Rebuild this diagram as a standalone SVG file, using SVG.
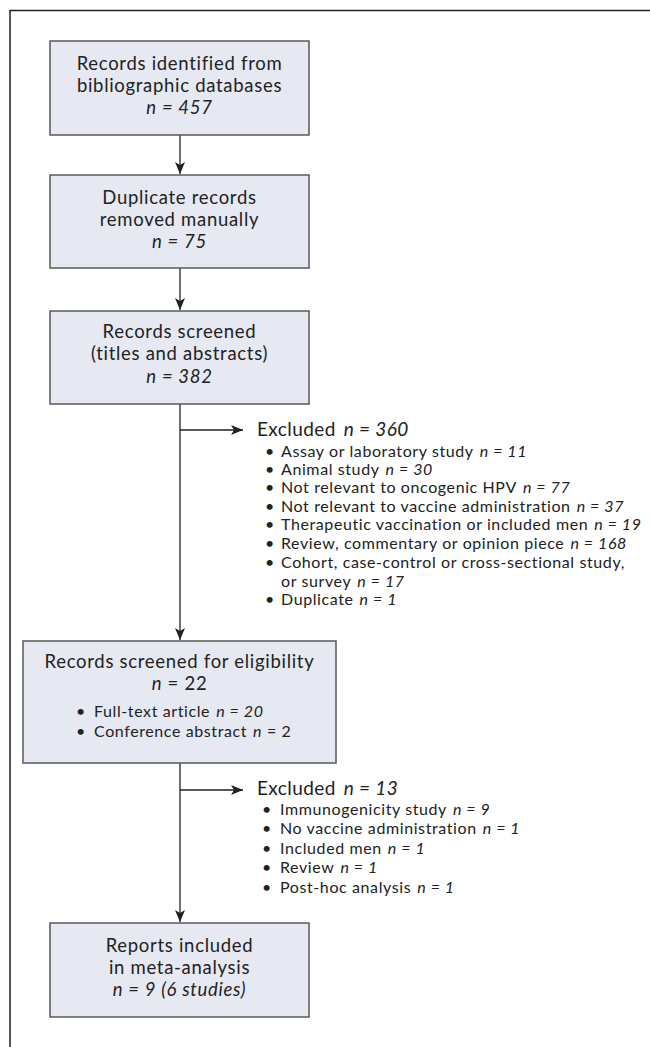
<svg xmlns="http://www.w3.org/2000/svg" width="650" height="1047" viewBox="0 0 650 1047">
<style>
.box{fill:#e6e8f2;stroke:#5a5a5a;stroke-width:1.5}
.t{font-family:Lato,"Liberation Sans",sans-serif;font-size:18.5px;letter-spacing:0.7px;fill:#222;text-anchor:middle}
.l{font-family:Lato,"Liberation Sans",sans-serif;font-size:16px;letter-spacing:0.6px;fill:#222}
.h{font-family:Lato,"Liberation Sans",sans-serif;font-size:19px;letter-spacing:0.4px;fill:#222}
.i{font-style:italic}
.c{fill:none;stroke:#222;stroke-width:1.3}
</style>
<defs>
<marker id="ah" viewBox="0 0 12 10" refX="12" refY="5" markerWidth="12" markerHeight="10" markerUnits="userSpaceOnUse" orient="auto">
<path d="M0,0 L12,5 L0,10 L3,5 z" fill="#222"/>
</marker>
</defs>
<rect x="0" y="0" width="650" height="1047" fill="#fff"/>
<path d="M10,1047 V10.5 H650" fill="none" stroke="#222" stroke-width="1.5"/>

<g id="connectors">
<line class="c" x1="180" y1="135" x2="180" y2="174" marker-end="url(#ah)"/>
<line class="c" x1="180" y1="268" x2="180" y2="310" marker-end="url(#ah)"/>
<line class="c" x1="180" y1="404" x2="180" y2="640" marker-end="url(#ah)"/>
<line class="c" x1="180" y1="430" x2="243" y2="430" marker-end="url(#ah)"/>
<line class="c" x1="180" y1="763" x2="180" y2="922" marker-end="url(#ah)"/>
<line class="c" x1="180" y1="790" x2="243" y2="790" marker-end="url(#ah)"/>
</g>

<g id="n1">
<rect class="box" x="50" y="41" width="259" height="94"/>
<text class="t" x="179.5" y="70">Records identified from</text>
<text class="t" x="179.5" y="92">bibliographic databases</text>
<text class="t i" x="179.5" y="114">n = 457</text>
</g>

<g id="n2">
<rect class="box" x="50" y="175" width="259" height="93"/>
<text class="t" x="179.5" y="204">Duplicate records</text>
<text class="t" x="179.5" y="226">removed manually</text>
<text class="t i" x="179.5" y="248">n = 75</text>
</g>

<g id="n3">
<rect class="box" x="50" y="311" width="259" height="93"/>
<text class="t" x="179.5" y="338">Records screened</text>
<text class="t" x="179.5" y="360">(titles and abstracts)</text>
<text class="t i" x="179.5" y="383">n = 382</text>
</g>

<g id="ex1">
<text class="h" x="257" y="436">Excluded<tspan class="i" dx="8">n = 360</tspan></text>
<g class="l">
<text x="265" y="457">•</text><text x="281" y="457">Assay or laboratory study<tspan class="i" dx="6">n = 11</tspan></text>
<text x="265" y="475">•</text><text x="281" y="475">Animal study<tspan class="i" dx="6">n = 30</tspan></text>
<text x="265" y="493">•</text><text x="281" y="493">Not relevant to oncogenic HPV<tspan class="i" dx="6">n = 77</tspan></text>
<text x="265" y="512">•</text><text x="281" y="512">Not relevant to vaccine administration<tspan class="i" dx="6">n = 37</tspan></text>
<text x="265" y="530">•</text><text x="281" y="530">Therapeutic vaccination or included men<tspan class="i" dx="6">n = 19</tspan></text>
<text x="265" y="549">•</text><text x="281" y="549">Review, commentary or opinion piece<tspan class="i" dx="6">n = 168</tspan></text>
<text x="265" y="568">•</text><text x="281" y="568">Cohort, case-control or cross-sectional study,</text>
<text x="281" y="587">or survey<tspan class="i" dx="6">n = 17</tspan></text>
<text x="265" y="605">•</text><text x="281" y="605">Duplicate<tspan class="i" dx="6">n = 1</tspan></text>
</g>
</g>

<g id="n4">
<rect class="box" x="23" y="641" width="313" height="122"/>
<text class="t" x="179.5" y="668">Records screened for eligibility</text>
<text class="t" x="179.5" y="690"><tspan class="i">n</tspan> = 22</text>
<g class="l">
<text x="76" y="717">•</text><text x="94" y="717">Full-text article<tspan class="i" dx="6">n = 20</tspan></text>
<text x="76" y="737">•</text><text x="94" y="737">Conference abstract<tspan class="i" dx="6">n</tspan> = 2</text>
</g>
</g>

<g id="ex2">
<text class="h" x="257" y="795">Excluded<tspan class="i" dx="8">n = 13</tspan></text>
<g class="l">
<text x="262" y="815">•</text><text x="280" y="815">Immunogenicity study<tspan class="i" dx="6">n = 9</tspan></text>
<text x="262" y="834">•</text><text x="280" y="834">No vaccine administration<tspan class="i" dx="6">n = 1</tspan></text>
<text x="262" y="854">•</text><text x="280" y="854">Included men<tspan class="i" dx="6">n = 1</tspan></text>
<text x="262" y="873">•</text><text x="280" y="873">Review<tspan class="i" dx="6">n = 1</tspan></text>
<text x="262" y="893">•</text><text x="280" y="893">Post-hoc analysis<tspan class="i" dx="6">n = 1</tspan></text>
</g>
</g>

<g id="n5">
<rect class="box" x="50" y="923" width="259" height="94"/>
<text class="t" x="179.5" y="952">Reports included</text>
<text class="t" x="179.5" y="974">in meta-analysis</text>
<text class="t i" x="179.5" y="996">n = 9 (6 studies)</text>
</g>
</svg>
